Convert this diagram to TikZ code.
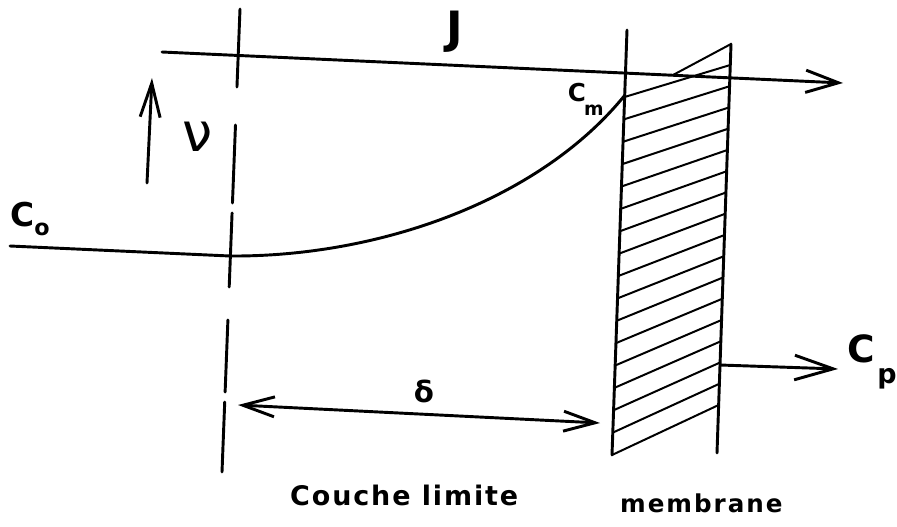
\documentclass[tikz,border=0pt]{standalone}
\usepackage{fontspec}
\setmainfont{DejaVu Sans}
\usetikzlibrary{arrows.meta,calc}
\begin{document}
\begin{tikzpicture}[x=0.03cm,y=-0.03cm,
  mainline/.style={line width=2.5pt, line cap=round, line join=round},
  hatchline/.style={line width=1.7pt, line cap=round},
  lbl/.style={inner sep=0pt, anchor=center},
  txt/.style={inner sep=0pt, anchor=base west},
  tipJ/.style={-{Straight Barb[length=28pt,width=19pt]}},
  tipv/.style={-{Straight Barb[length=29pt,width=17pt]}},
  tipd/.style={{Straight Barb[length=27pt,width=17pt]}-{Straight Barb[length=27pt,width=17pt]}},
  tipp/.style={-{Straight Barb[length=33pt,width=21pt]}},
  ]
\useasboundingbox (0,0) rectangle (897,526);

% named points
\coordinate (DT) at (240,9);
\coordinate (DB) at (222,472);
\coordinate (LT) at (627,30);
\coordinate (LB) at (612,455);
\coordinate (RT) at (731,44);
\coordinate (RB) at (717,453);
\coordinate (J1) at (162,52);
\coordinate (J2) at (843,83);
\coordinate (Jh) at (673,75);
\coordinate (C0s) at (10,246);
\coordinate (C0e) at (230,256);
\coordinate (Cmpt) at (625,95);
\coordinate (V1) at (147,183);
\coordinate (V2) at (152,78);
\coordinate (D1) at (238,405);
\coordinate (D2) at (600,423);
\coordinate (P1) at (720,365);
\coordinate (P2) at (838,369);

% dashed boundary-layer limit
\foreach \a/\b in {0/0.1685, 0.2505/0.419, 0.4406/0.6004, 0.6717/0.8272, 0.8488/1}
  \draw[mainline] ($(DT)!\a!(DB)$) -- ($(DT)!\b!(DB)$);

% membrane
\draw[mainline] (LT) -- (LB);
\draw[mainline] (RT) -- (RB);
\foreach \i in {0,...,16} {
  \pgfmathsetmacro\fl{(97+22.375*\i-30)/425}
  \pgfmathsetmacro\fr{(65+21.25*\i-44)/409}
  \draw[hatchline] ($(LT)!\fl!(LB)$) -- ($(RT)!\fr!(RB)$);
}
\draw[hatchline] (RT) -- (Jh);

% concentration profile
\draw[mainline] (C0s) -- (C0e) .. controls (380,257) and (540,200) .. (Cmpt);

% arrows
\draw[mainline, tipJ] (J1) -- (J2);
\draw[mainline, tipv] (V1) -- (V2);
\draw[mainline, tipd] (D1) -- (D2);
\draw[mainline, tipp] (P1) -- (P2);

% labels
\node[lbl, font=\fontsize{38}{38}\selectfont\bfseries] (lJ) at (455,32) {J};
\node[lbl, font=\fontsize{46}{46}\selectfont] (lv) at (198,137) {ν};
\node[lbl, font=\fontsize{28}{28}\selectfont\bfseries] (lC0) at (23,215) {C};
\node[lbl, font=\fontsize{19}{19}\selectfont\bfseries] (lC0s) at (42,229) {o};
\node[lbl, font=\fontsize{21}{21}\selectfont\bfseries] (lCm) at (577,93) {C};
\node[lbl, font=\fontsize{16}{16}\selectfont\bfseries] (lCms) at (594,110) {m};
\node[lbl, font=\fontsize{32}{32}\selectfont\bfseries] (lCp) at (861,349) {C};
\node[lbl, font=\fontsize{23}{23}\selectfont\bfseries] (lCps) at (887,379) {p};
\node[lbl, font=\fontsize{25}{25}\selectfont\bfseries] (ld) at (424,391) {δ};
\node[txt, font=\fontsize{23}{23}\selectfont\bfseries\addfontfeature{LetterSpace=7}] (lcl) at (290,505) {Couche limite};
\node[txt, font=\fontsize{21}{21}\selectfont\bfseries\addfontfeature{LetterSpace=8}] (lmb) at (620,512) {membrane};
\end{tikzpicture}
\end{document}
